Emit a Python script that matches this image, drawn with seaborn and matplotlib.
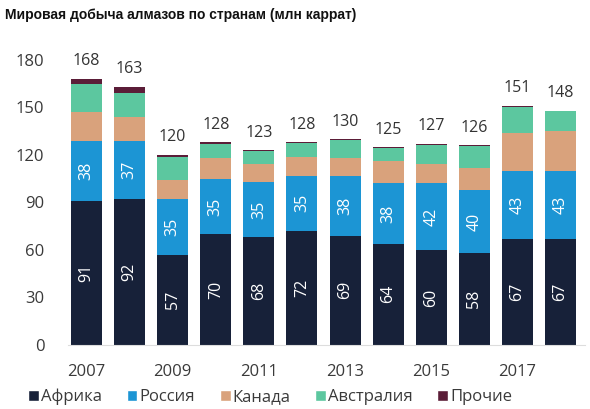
import numpy as np
import pandas as pd
import matplotlib
matplotlib.use('Agg')
import matplotlib.pyplot as plt
from matplotlib.patches import Patch
import seaborn as sns

# ------------ data --------------
years = ['2007', '2008', '2009', '2010', '2011', '2012', '2013', '2014', '2015', '2016', '2017', '2018']
africa = [91, 92, 57, 70, 68, 72, 69, 64, 60, 58, 67, 67]
russia = [38, 37, 35, 35, 35, 35, 38, 38, 42, 40, 43, 43]
canada = [18, 15, 12, 13, 11, 12, 11, 14, 12, 14, 24, 25]
australia = [18, 15, 15, 9, 8.5, 8.5, 11.5, 8.5, 12.5, 13.5, 16.5, 12.5]
others = [3, 4, 1, 1, 0.5, 0.5, 0.5, 0.5, 0.5, 0.5, 0.5, 0.5]
totals = [168, 163, 120, 128, 123, 128, 130, 125, 127, 126, 151, 148]

series_names = ['Африка', 'Россия', 'Канада', 'Австралия', 'Прочие']
series_colors = ['#172139', '#1c95d4', '#d9a27c', '#5cc79f', '#5b1d38']

sns.set_style('white')
plt.rcParams['font.family'] = ['Open Sans', 'DejaVu Sans']

df = pd.DataFrame({'year': years, 'Африка': africa, 'Россия': russia,
                   'Канада': canada, 'Австралия': australia, 'Прочие': others})
cum = df[series_names].cumsum(axis=1)

fig = plt.figure(figsize=(5.9, 4.09), dpi=100)
ax = fig.add_axes([68 / 590, 64 / 409, 517 / 590, 293 / 409])

# draw cumulative bars from the top layer down so that each overlays the next
for name, color in reversed(list(zip(series_names, series_colors))):
    sns.barplot(x=df['year'], y=cum[name], color=color, width=0.72,
                saturation=1, linewidth=0, ax=ax)

# value labels inside Africa and Russia segments, totals on top
for i in range(len(years)):
    ax.text(i, africa[i] / 2, f'{africa[i]}', rotation=90, ha='center', va='center',
            color='white', fontsize=11.5)
    ax.text(i, africa[i] + russia[i] / 2, f'{russia[i]}', rotation=90, ha='center',
            va='center', color='white', fontsize=11.5)
    ax.text(i, totals[i] + 6, f'{totals[i]}', ha='center', va='bottom',
            color='#333333', fontsize=11.5)

ax.set_ylim(0, 185)
ax.set_xlim(-0.43, 11.57)
ax.set_yticks(range(0, 181, 30))
ax.set_xticks(range(0, 12, 2))
ax.set_xticklabels(years[::2])
ax.tick_params(axis='both', length=0, labelsize=12, colors='#3a3a3a')
ax.tick_params(axis='y', pad=17)
ax.tick_params(axis='x', pad=14)
ax.set_xlabel('')
ax.set_ylabel('')
sns.despine(ax=ax, left=True)
ax.spines['bottom'].set_color('#dddddd')

fig.text(5 / 590, 1 - 15 / 409, 'Мировая добыча алмазов по странам (млн каррат)',
         fontsize=10, fontweight='bold', family=['Liberation Sans', 'DejaVu Sans'],
         va='center', ha='left', color='#111111')

handles = [Patch(facecolor=c, label=n) for n, c in zip(series_names, series_colors)]
fig.legend(handles=handles, loc='center', bbox_to_anchor=(270 / 590, 1 - 397 / 409),
           ncol=5, frameon=False, fontsize=12, handlelength=0.65, handleheight=0.65,
           handletextpad=0.1, columnspacing=1.5, labelcolor='#3a3a3a')

fig.savefig('out.png', dpi=100)
